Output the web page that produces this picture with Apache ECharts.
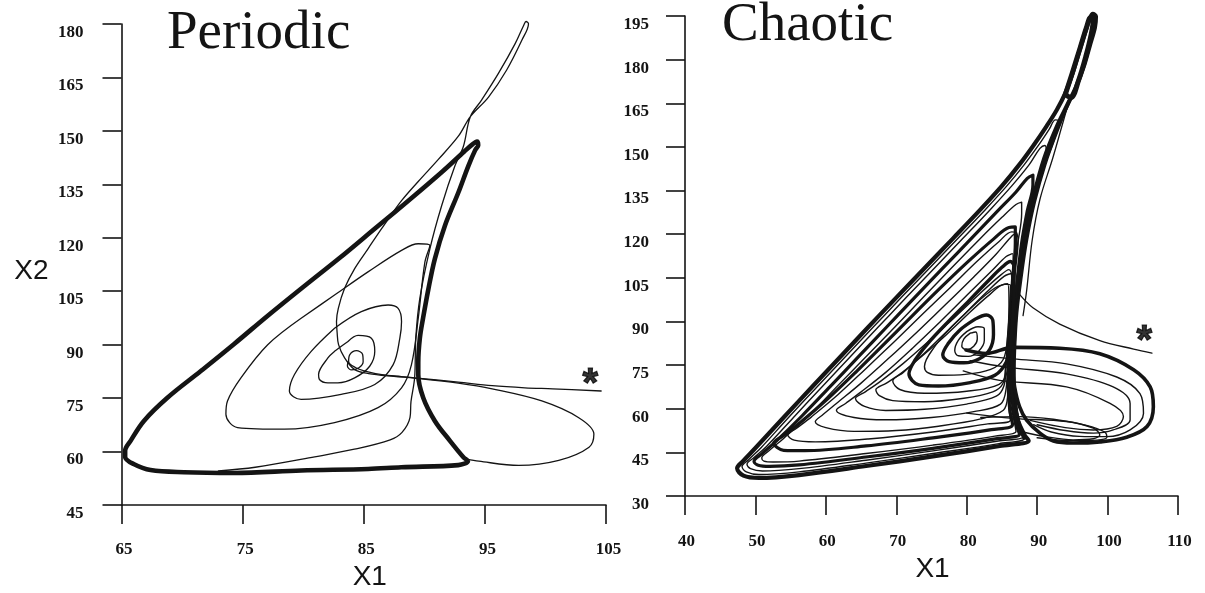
<!DOCTYPE html>
<html>
<head>
<meta charset="utf-8">
<script src="https://cdn.jsdelivr.net/npm/echarts@6/dist/echarts.min.js"></script>
<style>
html,body{margin:0;padding:0;background:#fff;}
#chart{width:1205px;height:593px;}
</style>
</head>
<body>
<div id="chart"></div>
<script>
// ---------- tick labels ----------
const periodicXTicks = [65, 75, 85, 95, 105];
const periodicYTicks = [45, 60, 75, 90, 105, 120, 135, 150, 165, 180];
const chaoticXTicks = [40, 50, 60, 70, 80, 90, 100, 110];
const chaoticYTicks = [30, 45, 60, 75, 90, 105, 120, 135, 150, 165, 180, 195];

// ---------- Periodic panel (X1, X2) ----------
const periodicLimitCycle = [[80.0,106.2],[83.0,114.3],[86.0,122.8],[89.0,131.3],[91.5,138.6],[93.3,144.2],[94.0,146.3],[94.35,147.0],[94.45,146.0],[94.2,144.6],[93.64,140.2],[92.81,132.7],[91.7,123.4],[90.87,114.1],[90.33,105.5],[89.9,97.5],[89.63,91.8],[89.5,85],[89.5,81.6],[89.91,75.1],[90.87,68.6],[92.12,63.0],[93.23,58.4],[93.6,57.3],[92.8,56.2],[88.1,55.6],[85.36,55.1],[79.83,54.7],[74.3,54.0],[70.16,54.2],[67.4,54.8],[66.0,56.5],[65.3,58.5],[65.3,60.2],[65.75,63.0],[66.85,68.6],[68.79,75.1],[71.55,82.6],[74.3,90.2],[77.1,98.2],[80.0,106.2]];
const periodicStarPath = [[104.6,77.0],[100.6,77.6],[98.3,77.9],[95.6,78.5],[92.8,79.5],[89.2,80.7],[88.1,81.05],[86.5,81.6],[85.1,82.6],[84.3,83.6],[83.75,85.3],[83.85,87.2],[84.4,88.3],[84.9,87.3],[84.95,85.2],[84.6,83.5],[84.0,82.9],[83.65,84.0],[83.7,85.3]];
const periodicTransient = [[93.5,57.9],[94.5,57.3],[97.8,56.1],[101.1,57.5],[103.6,61.2],[104.0,64.9],[102.75,69.5],[99.7,74.2],[95.6,77.6],[92.8,79.2],[89.2,80.6],[87.5,81.1],[85.4,81.9],[84.25,83.0],[83.42,86.3],[82.92,90.0],[82.8,93.5],[82.75,96.5],[82.9,100.2],[83.42,105.8],[84.25,111.35],[85.35,116.9],[86.46,122.5],[88.12,130.4],[89.5,135.8],[91.16,142.0],[92.81,148.5],[93.8,154],[95.3,159.5],[96.8,167.1],[98.06,175.5],[98.6,180.1],[98.4,180.7],[98.2,179.6],[97.5,174.5],[96.13,166.2],[94.74,158.7],[93.8,154],[93.23,145.7],[92.53,140.2],[91.43,129.0],[90.46,116.9],[89.63,103.0],[89.3,92],[89.2,80.7],[88.9,74],[88.82,69.6],[88.16,65.4],[87.18,63.3],[84.23,60.65],[80.95,58.5],[76.04,55.6],[73.0,54.6]];
const periodicLoop2 = [[83.70,90.91],[84.53,92.58],[85.63,91.83],[85.91,88.12],[85.49,83.94],[84.25,80.68],[82.87,79.29],[82.04,79.29],[81.34,80.22],[81.27,81.61],[82.04,86.26],[82.59,88.12],[83.70,90.91]];
const periodicLoop3 = [[82.59,94.62],[80.66,88.12],[79.28,81.61],[78.86,76.97],[79.83,74.64],[83.14,76.04],[85.91,78.82],[87.43,84.40],[87.98,91.83],[88.12,96.48],[87.84,100.2],[87.01,101.13],[84.80,99.27],[82.59,94.62]];
const periodicLoop4 = [[79.83,97.41],[77.07,89.98],[74.86,80.68],[73.75,74.18],[73.62,70.46],[74.58,66.74],[78.45,66.28],[82.59,68.14],[86.18,72.32],[88.12,77.9],[88.94,84.4],[89.50,97.41],[90.05,113.21],[90.46,117.85],[89.5,118.32],[88.12,116.46],[85.35,110.42],[82.59,103.92],[79.83,97.41]];
const periodicStar = [[103.7, 81.2]];

// ---------- Chaotic panel (X1, X2) ----------
const chaoticOuter = [[70,98.2],[74,108.3],[78,118.4],[82,128.6],[85,136.6],[87.5,144.0],[89.5,150.6],[91.3,157.0],[92.8,162.8],[94.0,168.5],[95.0,175],[96.0,183],[96.9,190],[97.5,194.3],[97.9,195.7],[98.35,194.8],[98.2,191],[97.5,185],[96.6,177.5],[95.5,170.5],[94.3,164.5],[92.8,157],[91.0,146],[89.5,133],[88.3,120],[87.5,108],[87.0,97],[86.6,85],[86.4,74],[86.6,64],[87.2,56.5],[88.2,51],[88.8,49],[84.7,47.2],[75.2,43.6],[65.7,40.3],[56.2,37.2],[50.5,36.2],[48.3,37.0],[47.4,39.5],[48.2,41.9],[50,46.5],[54,57.0],[58,67.4],[62,77.7],[66,88.0],[70,98.2]];
const chaoticSpike = [[94.0,168],[95.0,175.5],[96.1,184],[97.0,191],[97.6,194.5],[98.0,194.2],[97.7,189],[96.9,181],[95.9,173],[94.8,167],[94.0,168]];
const chaoticBand = [[94.6,166],[92.9,156],[91.1,144],[89.6,131],[88.5,118],[87.7,105],[87.1,93],[86.8,81],[86.7,71],[86.9,62],[87.4,55],[88.1,50]];
const chaoticBandA2 = [[70.7,98.2],[74.7,108.3],[78.7,118.4],[82.7,128.6],[85.7,136.6],[88.2,144],[90.2,150.6],[91.7,156],[92.6,159.3],[93.2,158.8],[92.5,153],[91.0,143],[89.6,131],[88.5,119],[87.7,107],[87.2,95],[86.9,83],[86.8,72],[87.0,62],[87.6,54.5],[88.3,50],[84.6,48.0],[75.2,44.6],[65.7,41.3],[56.2,38.3],[50.5,37.4],[48.7,38.3],[48.1,40.1],[49.0,42.4],[50.8,46.6],[54.7,57],[58.7,67.4],[62.7,77.7],[66.7,88],[70.7,98.2]];
const chaoticBandA3 = [[71.4,98.2],[75.4,108.3],[79.4,118.4],[83.4,128.6],[86.4,136.6],[88.9,144],[90.4,149.5],[91.1,150.5],[91.3,148.5],[90.3,140],[89.0,127],[88.0,114],[87.3,101],[86.8,88],[86.6,76],[86.6,66],[86.9,58],[87.5,52.5],[88.0,50.3],[84.5,48.9],[75.2,45.5],[65.7,42.3],[56.2,39.4],[51.0,38.6],[49.3,39.4],[48.8,40.9],[49.8,43.2],[51.6,47.1],[55.4,57],[59.4,67.4],[63.4,77.7],[67.4,88],[71.4,98.2]];
const chaoticBandA4 = [[72.6,98.2],[76.6,108.3],[80.6,118.4],[84.4,128],[87.0,134.5],[88.6,139.2],[89.4,140.3],[89.4,137],[88.6,128],[87.8,117],[87.2,105],[86.7,92],[86.4,80],[86.3,69],[86.6,60],[87.1,54],[87.5,51.2],[84.3,49.7],[75.2,46.4],[65.7,43.4],[56.2,40.7],[52.0,40.2],[50.4,40.6],[49.8,41.9],[50.9,44.5],[52.8,48.5],[56.6,57.5],[60.6,67.6],[64.6,77.8],[68.6,88],[72.6,98.2]];
const chaoticBandA5 = [[73.8,98.2],[77.8,108.3],[81.8,118.2],[85.0,125.8],[87.0,130.2],[87.8,131],[87.8,127],[87.2,116],[86.7,104],[86.4,92],[86.2,80],[86.1,70],[86.3,61],[86.8,55],[87.0,52.2],[84.0,50.6],[75.2,47.5],[65.7,44.6],[56.2,42.0],[52.5,41.7],[51.2,42.0],[50.9,43.1],[52.0,45.7],[54.0,49.8],[57.8,58.2],[61.8,68.2],[65.8,78.1],[69.8,88.1],[73.8,98.2]];
const chaoticBandA6 = [[72.3,92.0],[76.3,101.6],[80.3,110.8],[83.8,118.3],[86.0,122.3],[86.9,122.5],[86.9,117],[86.5,104],[86.2,91],[86.0,79],[85.9,68],[86.1,60],[86.5,54.5],[83.5,52.8],[75.2,50.0],[65.7,47.2],[57.0,45.6],[54.0,45.7],[52.6,48.2],[54.0,50.8],[56.5,55.5],[60.3,63.5],[64.3,72.7],[68.3,82.3],[72.3,92.0]];
const chaoticBandA7 = [[73.6,92.2],[77.6,101.5],[81.4,110.5],[84.6,117.5],[86.4,120.8],[87.1,120.5],[87.0,114],[86.6,102],[86.2,90],[86.0,78],[85.9,68],[86.0,60],[86.2,56],[83,54.8],[75.2,52.0],[66,49.6],[58.5,48.6],[55.5,49.2],[54.6,51.0],[55.8,53.2],[58.0,57.3],[61.7,64.8],[65.6,73.6],[69.6,82.8],[73.6,92.2]];
const chaoticLoopB1 = [[73,86.5],[77,95.8],[81,105.3],[84.2,113.2],[86.2,118.8],[87.0,120.3],[87.3,118],[86.9,107],[86.5,95],[86.1,83],[85.9,72],[85.8,64],[85.2,59.5],[82,56.5],[76,54.0],[70,52.5],[64,52.2],[60,53.5],[58.5,55.5],[59.6,58.0],[61.5,61.8],[65,68.8],[69,77.5],[73,86.5]];
const chaoticLoopB2 = [[76.2,89.8],[80.2,99.4],[83.6,107.5],[85.6,112.3],[86.5,113.3],[86.6,109],[86.3,99],[86.0,88],[85.8,77],[85.6,67],[84.8,61.6],[81,59.0],[75,57.0],[68.5,56.2],[64,57.0],[61.5,59.5],[62.8,61.8],[65,65.8],[68.5,72.5],[72.3,80.8],[76.2,89.8]];
const chaoticLoopB3 = [[78.2,91.2],[81.7,99.2],[84.6,105.5],[86.0,107.8],[86.4,104],[86.2,95],[85.9,85],[85.6,75],[85.3,68],[84.2,64.3],[80,61.6],[74,59.8],[68.5,59.4],[65.5,60.8],[64.2,63.5],[65.6,65.8],[67.8,69.5],[71.0,75.6],[74.5,83.0],[78.2,91.2]];
const chaoticLoopB4 = [[80.3,92.8],[83.3,99.3],[85.4,102.8],[86.2,102.5],[86.1,95],[85.8,84],[85.5,74],[85.1,68.5],[83.7,65.8],[79.6,63.6],[74,62.4],[69.5,62.8],[67.6,64.5],[67.1,66.5],[68.6,68.8],[70.9,72.6],[73.8,78.4],[77.0,85.2],[80.3,92.8]];
const chaoticLoopC0 = [[79.7,92.5],[82.8,100],[85.3,105.5],[86.4,106.5],[86.6,102],[86.4,92],[86.2,81],[85.8,73],[84.6,68.4],[80,66],[74,65.3],[70.5,66.6],[69.5,69.5],[71,72.5],[73.5,78],[76.5,85],[79.7,92.5]];
const chaoticLoopR1 = [[80.2,96.8],[83.0,103.8],[85.0,108.6],[86.2,110.6],[86.7,109.0],[86.7,100],[86.5,90],[86.2,82],[85.6,76.0],[84.0,71.5],[80.5,69.0],[76,67.8],[73.2,68.2],[71.8,72.0],[72.6,76.5],[74.5,82.5],[77.2,89.5],[80.2,96.8]];
const chaoticLoopC2 = [[81.0,95.5],[84.0,101.5],[85.8,103],[86.0,96],[85.8,85],[85.2,77],[83.4,73.5],[79.8,71.8],[76.0,71.5],[74.4,72.5],[74.0,74.5],[75.5,81.5],[78.0,88.5],[81.0,95.5]];
const chaoticLoopC3 = [[81.2,90.8],[82.8,92.2],[83.7,90.5],[83.8,85.5],[83.3,80.5],[81.8,77.2],[79.6,75.8],[77.5,76.2],[76.6,78.5],[77.4,82.5],[79.0,87.0],[81.2,90.8]];
const chaoticLoopC4 = [[80.0,86.5],[81.6,88.2],[82.5,87.5],[82.5,83.5],[81.7,79.8],[80.2,78.0],[78.8,78.2],[78.3,80],[78.8,83.5],[80.0,86.5]];
const chaoticLoopC5 = [[80.5,86.0],[81.3,86.4],[81.5,84.0],[81.0,81.5],[80.0,80.3],[79.3,81.5],[79.6,84.0],[80.5,86.0]];
const chaoticLobeMain = [[79.9,80.2],[82.8,79.0],[86.6,81.1],[93.2,80.8],[98.9,78.9],[103.7,73.4],[106.05,67.5],[106.5,60.7],[105.6,53.9],[102.7,50.2],[98.9,48.6],[95.1,48.2],[92.3,48.9],[90.4,51.6],[88.5,56.1],[87.5,60.7],[86.8,67.5],[86.6,73.2]];
const chaoticLobe2 = [[81.0,78.5],[86.57,77.13],[94.17,75.43],[101.3,70.9],[104.6,65.2],[105.1,58.4],[103.2,52.7],[99.9,50.4],[96,50.5],[92,52],[89.5,54.5]];
const chaoticLobe3 = [[80.5,76.5],[85.6,74.3],[94.17,72.0],[100.8,67.5],[103.2,61.8],[103.2,56.1],[100.8,52.7],[98.0,51.6],[94,52.5],[90,54.5]];
const chaoticLobe4 = [[79.5,73],[84.67,69.75],[94.17,67.5],[100.35,61.8],[102.25,57.3],[101.3,53.9],[98.0,52.7],[94,53.5],[89,56]];
const chaoticFlat1 = [[80,58.5],[86.57,56.7],[94.17,55.6],[97.97,53.3],[98.9,51.0],[97.97,49.7],[95.1,49.3],[91,50.5],[88,52]];
const chaoticFlat2 = [[82,57],[87.5,57.3],[92.3,56.4],[97.0,54.3],[99.6,52.0],[99.9,50.2],[98.5,49.2],[95,49],[90,50]];
const chaoticSideLine = [[94.2,163],[93.5,157],[92.2,146],[90.4,132],[89.3,118],[88.5,100.4],[88.0,92]];
const chaoticStarPath = [[87.5,99.3],[89.4,94.7],[93.2,89.1],[98.9,83.4],[103.7,80.5],[106.3,79.1]];
const chaoticStar = [[105.2, 85.9]];

// ---------- build ----------
const INK = '#141414';
function curve(data, width, g) {
  return {
    type: 'line', xAxisIndex: g, yAxisIndex: g, data: data,
    smooth: 0.35, showSymbol: false, symbol: 'none', clip: false, silent: true,
    lineStyle: { color: INK, width: width, cap: 'round', join: 'round' }
  };
}
function star(data, g) {
  return {
    type: 'scatter', xAxisIndex: g, yAxisIndex: g, data: data, symbolSize: 1, silent: true,
    itemStyle: { color: 'rgba(0,0,0,0)' },
    label: { show: true, formatter: '*', position: 'inside', color: '#000',
      textBorderColor: '#000', textBorderWidth: 1.2,
      fontFamily: 'Liberation Sans', fontWeight: 'bold', fontSize: 40, offset: [0, 9] }
  };
}
const tickFont = { fontFamily: 'Liberation Serif', fontWeight: 'bold', fontSize: 17, color: INK };
function xAxisCfg(ticks, g, margin, nameGap, namePad, labelPad) {
  return {
    type: 'value', gridIndex: g, min: ticks[0], max: ticks[ticks.length - 1],
    interval: ticks[1] - ticks[0], splitLine: { show: false },
    axisLine: { show: true, onZero: false, lineStyle: { color: INK, width: 1.6 } },
    axisTick: { show: true, inside: false, length: 19, lineStyle: { color: INK, width: 1.6 } },
    axisLabel: Object.assign({ margin: margin, padding: labelPad, showMinLabel: true, showMaxLabel: true }, tickFont),
    name: 'X1', nameLocation: 'middle', nameGap: nameGap,
    nameTextStyle: { fontFamily: 'Liberation Sans', fontSize: 28, color: INK, padding: namePad }
  };
}
function yAxisCfg(ticks, g, margin, withName) {
  const a = {
    type: 'value', gridIndex: g, min: ticks[0], max: ticks[ticks.length - 1],
    interval: ticks[1] - ticks[0], splitLine: { show: false },
    axisLine: { show: true, onZero: false, lineStyle: { color: INK, width: 1.6 } },
    axisTick: { show: true, inside: false, length: 19, lineStyle: { color: INK, width: 1.6 } },
    axisLabel: Object.assign({ margin: margin, verticalAlign: 'top', showMinLabel: true, showMaxLabel: true }, tickFont)
  };
  if (withName) {
    a.name = 'X2'; a.nameLocation = 'middle'; a.nameRotate = 0; a.nameGap = 73;
    a.nameTextStyle = { fontFamily: 'Liberation Sans', fontSize: 28, color: INK,
      verticalAlign: 'top', lineHeight: 13 };
  }
  return a;
}

const chart = echarts.init(document.getElementById('chart'), null, { renderer: 'canvas' });
chart.setOption({
  animation: false,
  backgroundColor: '#ffffff',
  title: [
    { text: 'Periodic', left: 167, top: 6, padding: 0,
      textStyle: { fontFamily: 'Liberation Serif', fontSize: 55, fontWeight: 'normal', color: INK } },
    { text: 'Chaotic', left: 722, top: -2, padding: 0,
      textStyle: { fontFamily: 'Liberation Serif', fontSize: 55, fontWeight: 'normal', color: INK } }
  ],
  grid: [
    { left: 121.5, top: 24, width: 484.5, height: 481, outerBoundsMode: 'none', containLabel: false },
    { left: 685, top: 16, width: 493, height: 480, outerBoundsMode: 'none', containLabel: false }
  ],
  xAxis: [
    xAxisCfg(periodicXTicks, 0, 36, 54, [0, 0, 0, 12], [0, 0, 0, 5]),
    xAxisCfg(chaoticXTicks, 1, 37, 55, [0, 0, 0, 2], [0, 0, 0, 3])
  ],
  yAxis: [
    yAxisCfg(periodicYTicks, 0, 38, true),
    yAxisCfg(chaoticYTicks, 1, 36, false)
  ],
  series: [
    curve(periodicLoop2, 1.3, 0),
    curve(periodicLoop3, 1.3, 0),
    curve(periodicLoop4, 1.3, 0),
    curve(periodicStarPath, 1.3, 0),
    curve(periodicTransient, 1.3, 0),
    curve(periodicLimitCycle, 4.6, 0),
    star(periodicStar, 0),

    curve(chaoticOuter, 4.2, 1),
    curve(chaoticSpike, 5, 1),
    curve(chaoticBand, 3.4, 1),
    curve(chaoticBandA2, 1.4, 1),
    curve(chaoticBandA3, 1.4, 1),
    curve(chaoticBandA4, 3.2, 1),
    curve(chaoticBandA5, 1.4, 1),
    curve(chaoticBandA6, 3.2, 1),
    curve(chaoticBandA7, 1.4, 1),
    curve(chaoticLoopB1, 1.4, 1),
    curve(chaoticLoopB2, 1.4, 1),
    curve(chaoticLoopB3, 1.4, 1),
    curve(chaoticLoopB4, 1.4, 1),
    curve(chaoticLoopC0, 1.4, 1),
    curve(chaoticLoopR1, 3.4, 1),
    curve(chaoticLoopC2, 1.4, 1),
    curve(chaoticLoopC3, 3.4, 1),
    curve(chaoticLoopC4, 1.4, 1),
    curve(chaoticLoopC5, 1.4, 1),
    curve(chaoticLobeMain, 3.6, 1),
    curve(chaoticLobe2, 1.4, 1),
    curve(chaoticLobe3, 1.4, 1),
    curve(chaoticLobe4, 1.4, 1),
    curve(chaoticFlat1, 1.4, 1),
    curve(chaoticFlat2, 1.4, 1),
    curve(chaoticSideLine, 1.3, 1),
    curve(chaoticStarPath, 1.3, 1),
    star(chaoticStar, 1)
  ]
});
</script>
</body>
</html>
